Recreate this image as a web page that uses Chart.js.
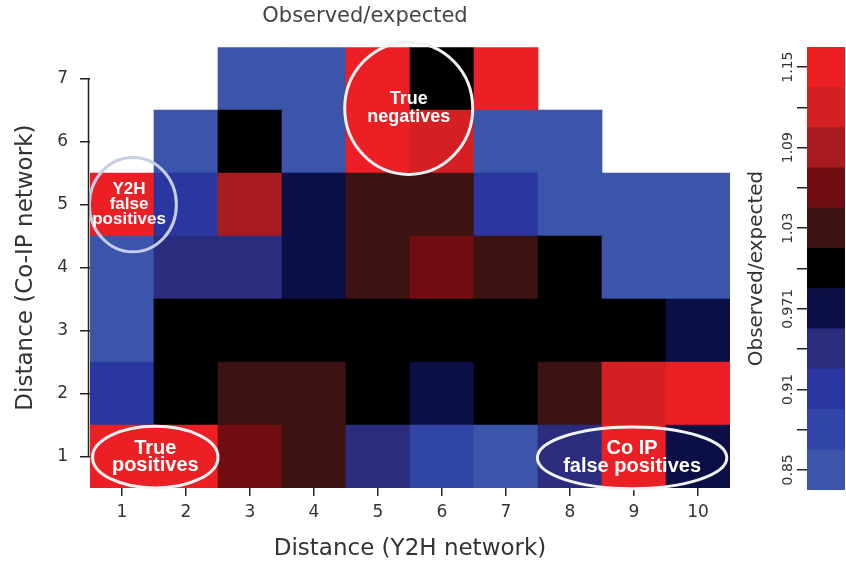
<!DOCTYPE html>
<html>
<head>
<meta charset="utf-8">
<script src="https://cdn.jsdelivr.net/npm/chart.js@4/dist/chart.umd.min.js"></script>
<style>
  body { margin: 0; background: #fff; }
  #wrap { position: relative; width: 846px; height: 563px; }
  #main { position: absolute; left: 0; top: 0; }
  #bar { position: absolute; left: 740px; top: 0; }
</style>
</head>
<body>
<div id="wrap">
  <canvas id="main" width="740" height="563"></canvas>
  <canvas id="bar" width="106" height="563"></canvas>
</div>
<script>
// Y2H distance on x, Co-IP distance on y; cell = observed/expected ratio
const xLabels = ['1', '2', '3', '4', '5', '6', '7', '8', '9', '10'];
const yLabels = [1, 2, 3, 4, 5, 6, 7];

const row1 = [1.15, 1.15, 1.06, 1.03, 0.94, 0.88, 0.85, 0.94, 1.15, 0.97];
const row2 = [0.91, 1.00, 1.03, 1.03, 1.00, 0.97, 1.00, 1.03, 1.12, 1.15];
const row3 = [0.85, 1.00, 1.00, 1.00, 1.00, 1.00, 1.00, 1.00, 1.00, 0.97];
const row4 = [0.85, 0.94, 0.94, 0.97, 1.03, 1.06, 1.03, 1.00, 0.85, 0.85];
const row5 = [1.15, 0.91, 1.09, 0.97, 1.03, 1.03, 0.91, 0.85, 0.85, 0.85];
const row6 = [null, 0.85, 1.00, 0.85, 1.15, 1.12, 0.85, 0.85, null, null];
const row7 = [null, null, 0.85, 0.85, 1.15, 1.00, 1.15, null, null, null];
const rows = [row1, row2, row3, row4, row5, row6, row7];

// colour key: band centres, colours, tick labels
const keyValues = [0.85, 0.88, 0.91, 0.94, 0.97, 1.00, 1.03, 1.06, 1.09, 1.12, 1.15];
const keyColors = ['#3a55a9', '#3146a8', '#2a37a0', '#2b2c7e', '#0b0f45', '#000000',
                   '#3c1212', '#700d10', '#a81b1e', '#d42023', '#ec1f24'];
const keyLabels = ['0.85', '', '0.91', '', '0.971', '', '1.03', '', '1.09', '', '1.15'];
const keyStep = 0.03;

const callouts = [
  { x: 1.17, y: 5.0, rx: 0.68, ry: 0.75, tx: 1.11, lines: ['Y2H', 'false', 'positives'], size: 17, lh: 15, stroke: '#c6cde8' },
  { x: 5.48, y: 6.53, rx: 1.0, ry: 1.05, lines: ['True', 'negatives'], size: 18, lh: 18, stroke: '#f2f2f2' },
  { x: 1.52, y: 0.99, rx: 0.98, ry: 0.49, lines: ['True', 'positives'], size: 20, lh: 17, stroke: '#f2f2f2' },
  { x: 8.97, y: 0.98, rx: 1.48, ry: 0.49, lines: ['Co IP', 'false positives'], size: 20, lh: 18, stroke: '#f2f2f2' }
];

Chart.defaults.font.family = 'DejaVu Sans';
Chart.defaults.color = '#333';

function colorFor(v) {
  if (v === null) return 'rgba(0,0,0,0)';
  let i = Math.round((v - keyValues[0]) / keyStep);
  i = Math.max(0, Math.min(keyColors.length - 1, i));
  return keyColors[i];
}

// R-style axis line running from first to last tick
const rAxis = {
  id: 'rAxis',
  afterDraw(chart) {
    const y = chart.scales.y;
    const ctx = chart.ctx;
    const x = chart.chartArea.left - 1.5;
    ctx.save();
    ctx.strokeStyle = '#222';
    ctx.lineWidth = 1.5;
    ctx.beginPath();
    ctx.moveTo(x, y.getPixelForValue(yLabels[yLabels.length - 1]));
    ctx.lineTo(x, y.getPixelForValue(yLabels[0]));
    ctx.stroke();
    ctx.restore();
  }
};

const calloutPlugin = {
  id: 'callouts',
  afterDatasetsDraw(chart) {
    const { ctx, scales: { x, y } } = chart;
    const ux = x.getPixelForValue(1) - x.getPixelForValue(0);
    const uy = y.getPixelForValue(0) - y.getPixelForValue(1);
    callouts.forEach(c => {
      const cx = x.getPixelForValue(c.x - 1);
      const cy = y.getPixelForValue(c.y);
      ctx.save();
      ctx.strokeStyle = c.stroke;
      ctx.lineWidth = 3;
      ctx.beginPath();
      ctx.ellipse(cx, cy, c.rx * ux, c.ry * uy, 0, 0, Math.PI * 2);
      ctx.stroke();
      const tx = x.getPixelForValue((c.tx || c.x) - 1);
      ctx.fillStyle = '#fff';
      ctx.font = 'bold ' + c.size + 'px "Liberation Sans", Arial, sans-serif';
      ctx.textAlign = 'center';
      ctx.textBaseline = 'middle';
      const top = cy - (c.lines.length - 1) * c.lh / 2;
      c.lines.forEach((t, i) => ctx.fillText(t, tx, top + i * c.lh));
      ctx.restore();
    });
  }
};

new Chart(document.getElementById('main'), {
  type: 'bar',
  data: {
    labels: xLabels,
    datasets: rows.map((vals, i) => ({
      label: 'Co-IP ' + yLabels[i],
      data: vals.map(v => v === null ? null : [yLabels[i] - 0.5, yLabels[i] + 0.5]),
      backgroundColor: vals.map(colorFor),
      borderWidth: 0,
      grouped: false,
      barPercentage: 1,
      categoryPercentage: 1
    }))
  },
  options: {
    responsive: false,
    animation: false,
    layout: { padding: { left: 0, right: 10, top: 0, bottom: 0 } },
    plugins: {
      legend: { display: false },
      tooltip: { enabled: false },
      title: {
        display: true,
        text: 'Observed/expected',
        color: '#444',
        font: { size: 21, weight: 'normal', lineHeight: 1.2 },
        padding: { top: 4, bottom: 18 }
      }
    },
    scales: {
      x: {
        type: 'category',
        offset: true,
        grid: { display: true, offset: false, drawOnChartArea: false, tickLength: 8, color: '#222', lineWidth: 1.5 },
        border: { display: false },
        ticks: { font: { size: 17 }, padding: 6, autoSkip: false, maxRotation: 0 },
        title: { display: true, text: 'Distance (Y2H network)', font: { size: 23 }, padding: { top: 0, bottom: 0 } },
        afterFit: s => { s.height = 75; }
      },
      y: {
        type: 'linear',
        min: 0.5,
        max: 7.5,
        afterBuildTicks: s => { s.ticks = yLabels.map(v => ({ value: v })); },
        grid: { display: true, drawOnChartArea: false, tickLength: 10, color: '#222', lineWidth: 1.5 },
        border: { display: false },
        ticks: { font: { size: 17 }, padding: 12, autoSkip: false, callback: v => String(v) },
        title: { display: true, text: 'Distance (Co-IP network)', font: { size: 23 }, padding: { top: 12, bottom: 0 } },
        afterFit: s => { s.width = 90; }
      }
    }
  },
  plugins: [rAxis, calloutPlugin]
});

new Chart(document.getElementById('bar'), {
  type: 'bar',
  data: {
    labels: [''],
    datasets: keyValues.map((v, i) => ({
      label: keyLabels[i],
      data: [[v - keyStep / 2, v + keyStep / 2]],
      backgroundColor: keyColors[i],
      borderWidth: 0,
      grouped: false,
      barPercentage: 1,
      categoryPercentage: 1
    }))
  },
  options: {
    responsive: false,
    animation: false,
    layout: { padding: { left: 0, right: 1, top: 47, bottom: 73 } },
    plugins: { legend: { display: false }, tooltip: { enabled: false } },
    scales: {
      x: { display: false },
      y: {
        type: 'linear',
        min: keyValues[0] - keyStep / 2,
        max: keyValues[keyValues.length - 1] + keyStep / 2,
        afterBuildTicks: s => { s.ticks = keyValues.map(v => ({ value: v })); },
        grid: { display: true, drawOnChartArea: false, tickLength: 10, color: '#222', lineWidth: 1.5 },
        border: { display: false },
        ticks: {
          font: { size: 14 },
          autoSkip: false,
          minRotation: 90,
          maxRotation: 90,
          crossAlign: 'center',
          padding: -11,
          callback: (v, i) => keyLabels[i]
        },
        title: { display: true, text: 'Observed/expected', font: { size: 20 }, padding: { top: 5, bottom: 0 } },
        afterFit: s => { s.width = 67; }
      }
    }
  }
});
</script>
</body>
</html>
